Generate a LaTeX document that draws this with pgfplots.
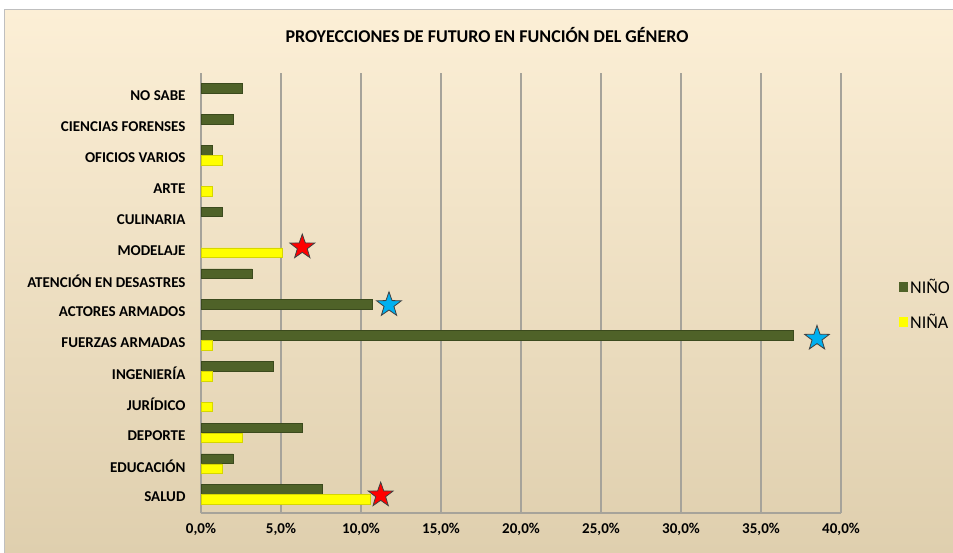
\documentclass[border=0pt]{standalone}
\usepackage{fontspec}
\setmainfont{Carlito}
\usepackage{pgfplots}
\pgfplotsset{compat=1.18}
\definecolor{bgtop}{HTML}{FCEFD6}
\definecolor{bgbot}{HTML}{DFCFAE}
\definecolor{nino}{HTML}{4F6228}
\definecolor{ninoedge}{HTML}{3B4A1D}
\definecolor{nina}{HTML}{FFFF00}
\definecolor{ninaedge}{HTML}{D6D600}
\definecolor{starblue}{HTML}{00B0F0}
\definecolor{gridc}{HTML}{A6A39A}
\pgfdeclareplotmark{fstar}{%
  \pgfpathmoveto{\pgfpointpolar{90}{\pgfplotmarksize}}%
  \pgfpathlineto{\pgfpointpolar{126}{0.4\pgfplotmarksize}}%
  \pgfpathlineto{\pgfpointpolar{162}{\pgfplotmarksize}}%
  \pgfpathlineto{\pgfpointpolar{198}{0.4\pgfplotmarksize}}%
  \pgfpathlineto{\pgfpointpolar{234}{\pgfplotmarksize}}%
  \pgfpathlineto{\pgfpointpolar{270}{0.4\pgfplotmarksize}}%
  \pgfpathlineto{\pgfpointpolar{306}{\pgfplotmarksize}}%
  \pgfpathlineto{\pgfpointpolar{342}{0.4\pgfplotmarksize}}%
  \pgfpathlineto{\pgfpointpolar{18}{\pgfplotmarksize}}%
  \pgfpathlineto{\pgfpointpolar{54}{0.4\pgfplotmarksize}}%
  \pgfpathclose
  \pgfusepathqfillstroke
}
\begin{document}
\begin{tikzpicture}
\useasboundingbox (0bp,0bp) rectangle (953bp,553bp);
\fill[white] (0bp,0bp) rectangle (953bp,553bp);
\shade[top color=bgtop, bottom color=bgbot] (4bp,0bp) rectangle (953bp,543bp);
\draw[gray!50, line width=1bp] (4bp,0bp) -- (4bp,543bp) -- (953bp,543bp);
\node[font=\fontsize{18bp}{21bp}\selectfont\bfseries] at (487bp,518bp) {PROYECCIONES DE FUTURO EN FUNCIÓN DEL GÉNERO};
\begin{axis}[
  at={(201bp,40bp)}, anchor=south west,
  width=640bp, height=440bp, scale only axis,
  xmin=0, xmax=40, ymin=-0.52, ymax=13.745,
  xtick={0,5,...,40},
  xticklabels={{0,0\%},{5,0\%},{10,0\%},{15,0\%},{20,0\%},{25,0\%},{30,0\%},{35,0\%},{40,0\%}},
  ytick={0,...,13},
  yticklabels={SALUD,EDUCACIÓN,DEPORTE,JURÍDICO,INGENIERÍA,FUERZAS ARMADAS,ACTORES ARMADOS,ATENCIÓN EN DESASTRES,MODELAJE,CULINARIA,ARTE,OFICIOS VARIOS,CIENCIAS FORENSES,NO SABE},
  axis x line*=bottom, axis y line*=left,
  axis line style={gridc, line width=1.2bp, -},
  xmajorgrids, grid style={gridc, line width=1.2bp},
  major tick length=0pt,
  tick label style={font=\fontsize{15bp}{17bp}\selectfont\bfseries},
  xticklabel style={yshift=-7bp},
  yticklabel style={xshift=-12bp},
  legend style={at={(1,0.474)}, anchor=west, xshift=58bp, draw=none, fill=none,
    font=\fontsize{18bp}{21bp}\selectfont, row sep=15bp, inner sep=0pt, cells={anchor=west}},
  legend image code/.code={\fill[#1,draw=none] (0bp,-5bp) rectangle (9bp,5bp);},
]
\addplot[xbar, bar width=9.5bp, bar shift=7.5bp, fill=nino, draw=ninoedge, line width=0.5bp]
  coordinates {(7.6,0) (2.0,1) (6.3,2) (4.5,4) (37.0,5) (10.7,6) (3.2,7) (1.3,9) (0.7,11) (2.0,12) (2.6,13)};
\addlegendentry{NIÑO}
\addplot[xbar, bar width=9.5bp, bar shift=-2.5bp, fill=nina, draw=ninaedge, line width=0.5bp]
  coordinates {(10.6,0) (1.3,1) (2.6,2) (0.7,3) (0.7,4) (0.7,5) (5.1,8) (0.7,10) (1.3,11)};
\addlegendentry{NIÑA}
\addplot[only marks, mark=fstar, mark size=13bp, mark options={fill=red, draw=black!75, line width=0.8bp}, forget plot]
  coordinates {(6.33,8.1) (11.23,0.06)};
\addplot[only marks, mark=fstar, mark size=13bp, mark options={fill=starblue, draw=black!75, line width=0.8bp}, forget plot]
  coordinates {(11.75,6.23) (38.5,5.14)};
\end{axis}
\end{tikzpicture}
\end{document}
